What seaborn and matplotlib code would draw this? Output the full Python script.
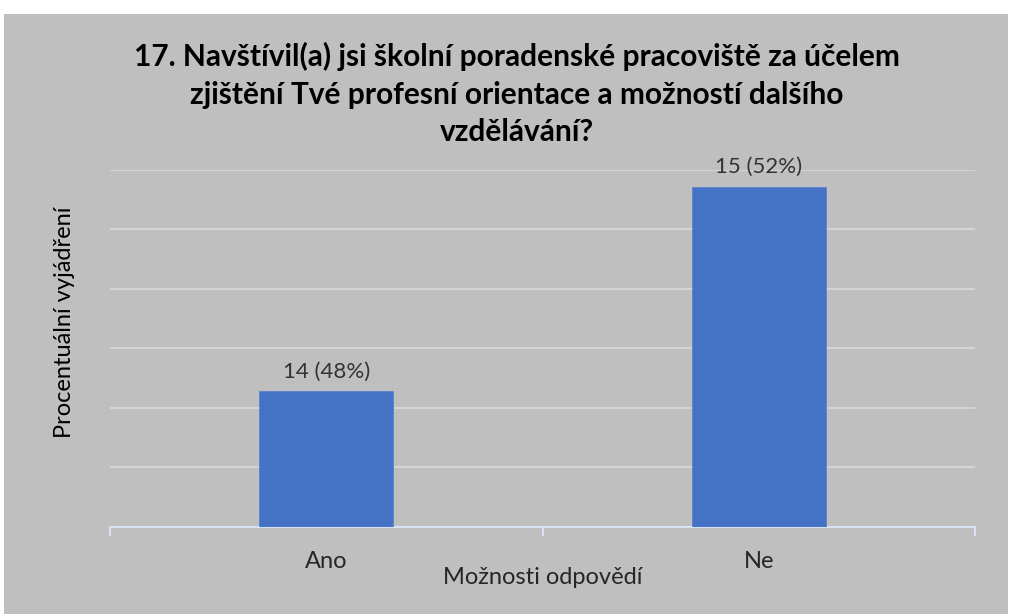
import matplotlib
matplotlib.use("Agg")
import matplotlib.pyplot as plt
import seaborn as sns
import pandas as pd

categories = ["Ano", "Ne"]
counts = [14, 15]
percent_values = [48.28, 51.72]
bar_labels = ["14 (48%)", "15 (52%)"]

title = "17. Navštívil(a) jsi školní poradenské pracoviště za účelem\nzjištění Tvé profesní orientace a možností dalšího\nvzdělávání?"
xlabel = "Možnosti odpovědí"
ylabel = "Procentuální vyjádření"

sns.set_theme(style="white")
plt.rcParams['font.family'] = ['Lato', 'DejaVu Sans']

BG = "#bfbfbf"
W, H = 1013, 614
fig = plt.figure(figsize=(W / 100, H / 100), dpi=100)
fig.patch.set_facecolor("white")
bgax = fig.add_axes([4 / W, 0, 1004 / W, 1 - 14 / H], zorder=-10)
bgax.set_facecolor(BG)
bgax.set_xticks([])
bgax.set_yticks([])
for s in bgax.spines.values():
    s.set_visible(False)

ax = fig.add_axes([110 / W, (H - 527) / H, (975 - 110) / W, (527 - 170) / H])
ax.set_facecolor(BG)

df = pd.DataFrame({"cat": categories, "pct": percent_values})
sns.barplot(data=df, x="cat", y="pct", color="#4472c4", width=0.31, ax=ax,
            saturation=1, zorder=3, edgecolor="#5b82cc", linewidth=0.6)

ax.set_ylim(46, 52)
ax.set_xlim(-0.5, 1.5)
ax.set_yticks(range(46, 53))
ax.yaxis.grid(True, color="#d9d9d9", linewidth=1.2, zorder=0)
ax.set_axisbelow(True)
ax.tick_params(axis="y", left=False, labelleft=False)
for s in ["top", "right", "left"]:
    ax.spines[s].set_visible(False)
ax.spines["bottom"].set_color("#dae3f3")
ax.spines["bottom"].set_linewidth(1.5)

ax.set_xticks([0, 1])
ax.set_xticklabels(categories, fontsize=17, color="#262626")
ax.tick_params(axis="x", bottom=False, pad=11)
for xb in [-0.5, 0.5, 1.5]:
    ax.plot([xb, xb], [0, -0.022], transform=ax.get_xaxis_transform(), color="#dae3f3",
            linewidth=1.5, clip_on=False, zorder=4)

for i, (v, lab) in enumerate(zip(percent_values, bar_labels)):
    ax.annotate(lab, (i, v), xytext=(0, 7), textcoords="offset points", ha="center",
                va="bottom", fontsize=16, color="#333333")

ax.set_xlabel(xlabel, fontsize=17, color="#262626", labelpad=-3)
ax.set_ylabel(ylabel, fontsize=17, color="#000000")
ax.yaxis.set_label_coords(-0.041, 0.574)

fig.text(517 / W, 1 - 42 / H, title, ha="center", va="top", fontsize=21.5,
         fontweight="bold", color="#000000", linespacing=1.42)

fig.savefig("out.png", dpi=100, facecolor=fig.get_facecolor())
